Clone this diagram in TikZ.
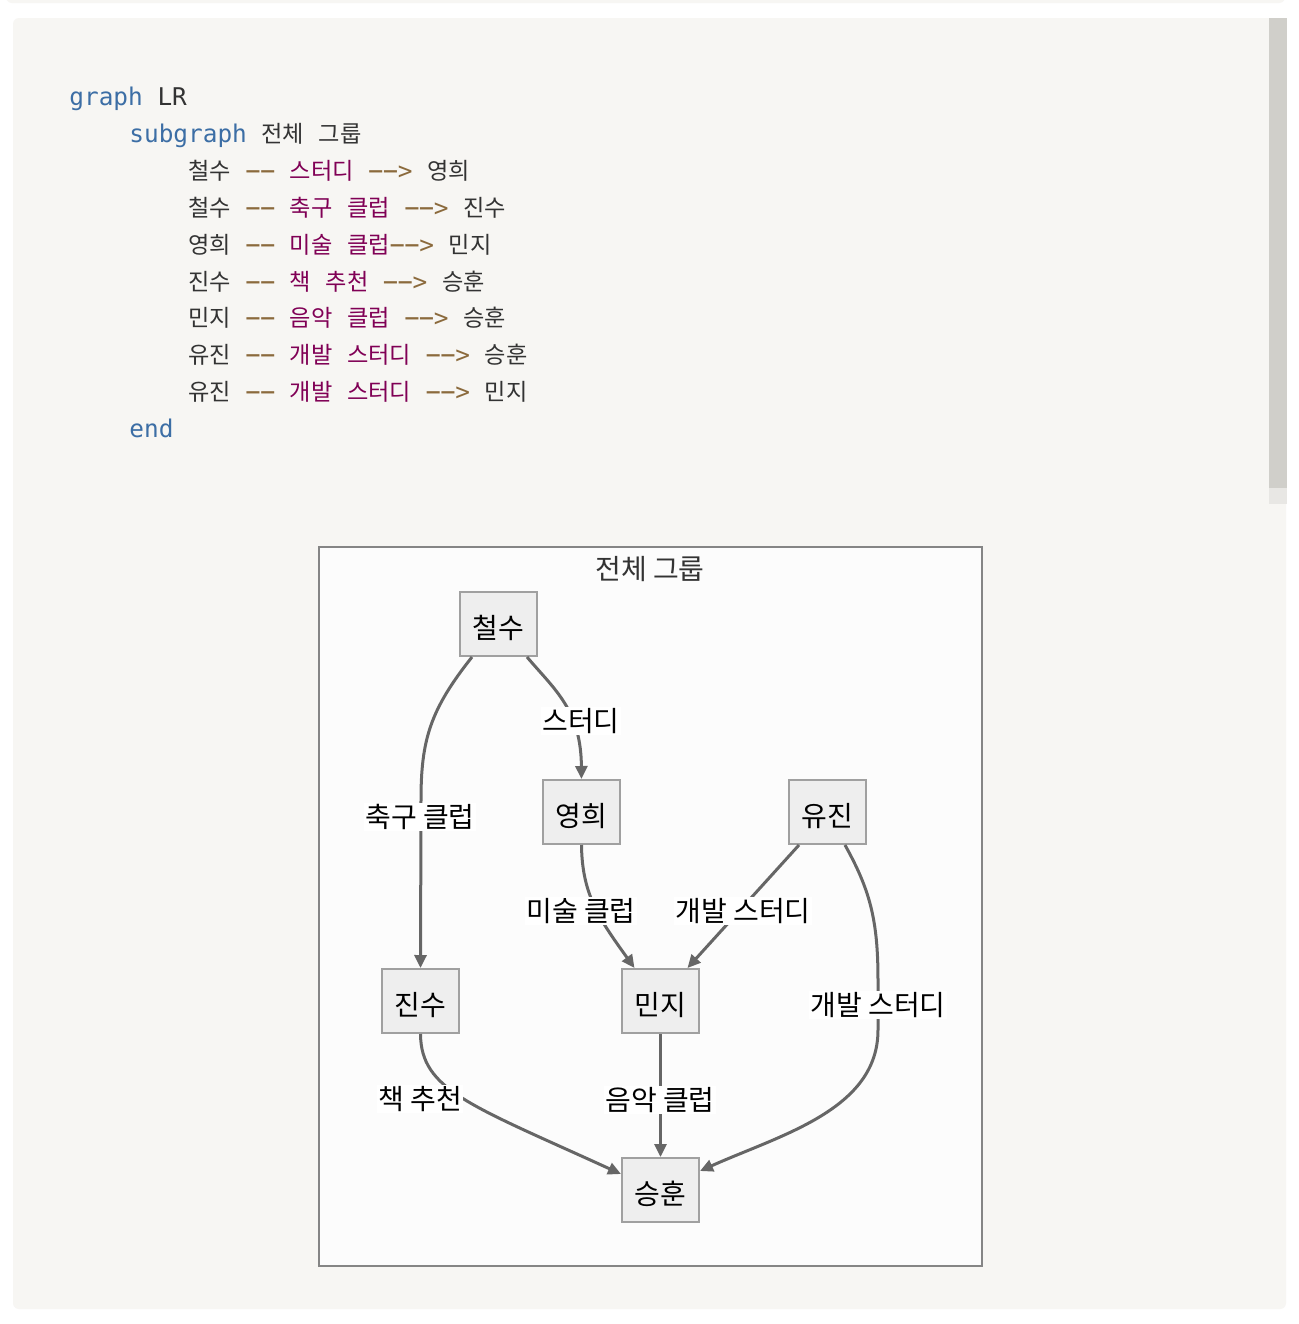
\documentclass[tikz,border=0pt]{standalone}
\usepackage{fontspec}
\usepackage{graphicx}
\setmonofont{DejaVu Sans Mono}
\newfontfamily\krf{Noto Sans CJK KR}
\usetikzlibrary{arrows.meta,calc}
\definecolor{panelbg}{HTML}{F7F6F3}
\definecolor{scrollbar}{HTML}{D0CFCA}
\definecolor{scrolltrack}{HTML}{E8E7E4}
\definecolor{kwblue}{HTML}{3C6EA5}
\definecolor{arrbrown}{HTML}{8B6A3C}
\definecolor{lblpurple}{HTML}{800055}
\definecolor{codetext}{HTML}{333333}
\definecolor{nodefill}{HTML}{EEEEEE}
\definecolor{nodeline}{HTML}{A0A0A0}
\definecolor{sgfill}{HTML}{FCFCFC}
\definecolor{sgline}{HTML}{858585}
\definecolor{edgec}{HTML}{666666}
\newcommand\codemono{\ttfamily\fontsize{12.2}{14}\selectfont}
\newcommand\ck[1]{{\krf\fontsize{11.6}{14}\selectfont #1}}
\newcommand\kw[1]{\textcolor{kwblue}{#1}}
\newcommand\hy{\makebox[0.602em]{\scalebox{2.1}[1.15]{-}}}
\newcommand\dd{\textcolor{arrbrown}{\hy\hy}}
\newcommand\da{\textcolor{arrbrown}{\hy\hy>}}
\newcommand\lb[1]{\textcolor{lblpurple}{\ck{#1}}}
\tikzset{
  codeline/.style={anchor=base west, inner sep=0pt, text=codetext, font=\codemono},
  gnode/.style={draw=nodeline, fill=nodefill, line width=1pt, minimum width=38.5pt, minimum height=32pt, inner sep=0pt, font=\krf\fontsize{14}{16}\selectfont, text=black, text height=17pt, text depth=3pt},
  elabel/.style={fill=white, inner sep=0.6pt, font=\krf\fontsize{14}{16}\selectfont, text=black},
  edge/.style={draw=edgec, line width=1.5pt, -{Triangle[length=6.5pt,width=6pt]}},
}
\begin{document}
\begin{tikzpicture}[x=0.5pt,y=-0.5pt]
\useasboundingbox (0,0) rectangle (1298,1324);
\fill[white] (0,0) rectangle (1298,1324);
% previous block strip and main panel
\fill[panelbg, rounded corners=3pt] (6,-10) rectangle (1285,3);
\fill[panelbg, rounded corners=3pt] (13,18) rectangle (1286,1309);
\fill[scrolltrack] (1269,488) rectangle (1287,504);
\fill[scrollbar] (1269,18) rectangle (1287,488);
% code
\node[codeline] (l0) at (69,105) {\kw{graph} LR};
\node[codeline] (l1) at (129,142) {\kw{subgraph} \ck{전체} \ck{그룹}};
\node[codeline] (l2) at (188,179) {\ck{철수} \dd{} \lb{스터디} \da{} \ck{영희}};
\node[codeline] (l3) at (188,216) {\ck{철수} \dd{} \lb{축구} \lb{클럽} \da{} \ck{진수}};
\node[codeline] (l4) at (188,253) {\ck{영희} \dd{} \lb{미술} \lb{클럽}\da{} \ck{민지}};
\node[codeline] (l5) at (188,290) {\ck{진수} \dd{} \lb{책} \lb{추천} \da{} \ck{승훈}};
\node[codeline] (l6) at (188,326) {\ck{민지} \dd{} \lb{음악} \lb{클럽} \da{} \ck{승훈}};
\node[codeline] (l7) at (188,363) {\ck{유진} \dd{} \lb{개발} \lb{스터디} \da{} \ck{승훈}};
\node[codeline] (l8) at (188,400) {\ck{유진} \dd{} \lb{개발} \lb{스터디} \da{} \ck{민지}};
\node[codeline] (l9) at (129,437) {\kw{end}};
% subgraph
\draw[sgline, fill=sgfill, line width=1pt] (319,547) rectangle (982,1266);
\node[font=\krf\fontsize{14}{16}\selectfont, text=codetext, inner sep=0pt] (title) at (650,569) {전체 그룹};
% nodes
\node[gnode] (cs) at (498.5,624) {철수};
\node[gnode] (yh) at (581.5,812) {영희};
\node[gnode] (yj) at (827.5,812) {유진};
\node[gnode] (js) at (420.5,1001) {진수};
\node[gnode] (mj) at (660.5,1001) {민지};
\node[gnode] (sh) at (660.5,1190) {승훈};
% edges
\draw[edge] ($(cs.south)+(28.5,0)$) .. controls (555,690) and (581,710) .. (yh.north);
\draw[edge] ($(cs.south)+(-26.5,0)$) .. controls (430,710) and (421,740) .. (421,800) -- (js.north);
\draw[edge] (yh.south) .. controls (582,895) and (600,920) .. ($(mj.north)+(-26,0)$);
\draw[edge] ($(yj.south)+(-28.5,0)$) -- ($(mj.north)+(27,0)$);
\draw[edge] ($(yj.south)+(17.5,0)$) .. controls (870,890) and (878,920) .. (878,980) -- (878,1030) .. controls (878,1110) and (780,1135) .. ($(sh.north east)+(0,14)$);
\draw[edge] (js.south) .. controls (421,1090) and (470,1105) .. ($(sh.north west)+(0,17)$);
\draw[edge] (mj.south) -- (sh.north);
% edge labels
\node[elabel] (e1) at (581,721) {스터디};
\node[elabel] (e2) at (420,817) {축구 클럽};
\node[elabel] (e3) at (581,911) {미술 클럽};
\node[elabel] (e4) at (743,911) {개발 스터디};
\node[elabel] (e5) at (878,1005) {개발 스터디};
\node[elabel] (e6) at (420,1099) {책 추천};
\node[elabel] (e7) at (660,1100) {음악 클럽};
\end{tikzpicture}
\end{document}
